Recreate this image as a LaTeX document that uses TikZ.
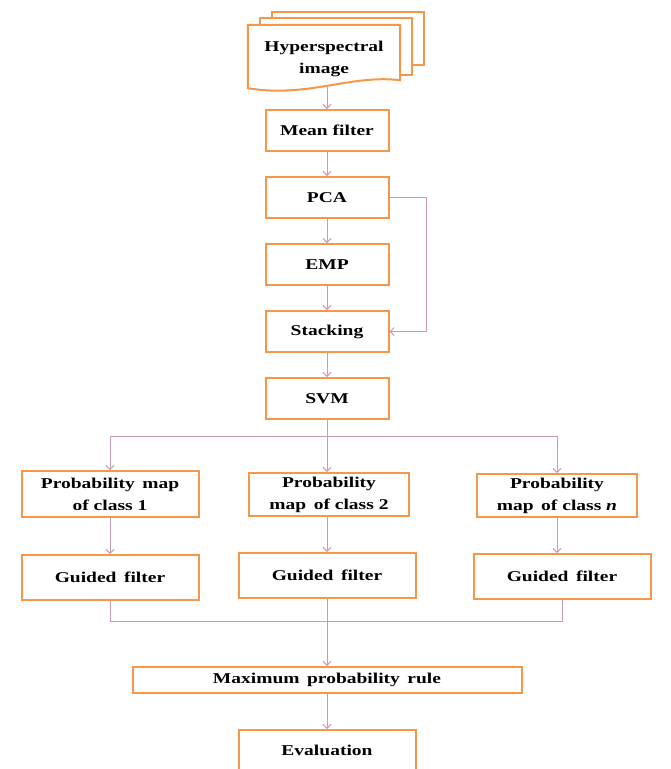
\documentclass[tikz,border=0pt]{standalone}
\usepackage{fontspec}
\newfontfamily\flowfont{Liberation Serif}[FakeStretch=1.3]
\usepackage{tikz}
\usetikzlibrary{positioning,arrows.meta,calc}
\definecolor{boxorange}{RGB}{247,150,70}
\definecolor{linkpink}{RGB}{200,155,185}

\begin{document}
\begin{tikzpicture}[x=1pt, y=-1pt,
  font=\flowfont\bfseries\fontsize{15}{22}\selectfont,
  every node/.style={align=center},
  box/.style={draw=boxorange, line width=2pt, fill=white, minimum width=123pt, minimum height=41pt, inner sep=2pt},
  probbox/.style={box, minimum width=160pt, minimum height=43pt},
  gfbox/.style={box, minimum width=177pt, minimum height=45pt},
  sheet/.style={draw=boxorange, line width=2pt, fill=white},
  link/.style={draw=linkpink, line width=1pt},
  arr/.style={link, -{Straight Barb[length=4pt,width=8pt]}}]
\useasboundingbox (0,0) rectangle (671,769);

% ---------------- input image (stack of sheets) ----------------
\node[minimum width=152pt, minimum height=63pt, inner sep=0pt] (hsi) at (324,56.5) {};
\draw[sheet] ([shift={(24pt,23pt)}]hsi.south west) rectangle ([shift={(24pt,13pt)}]hsi.north east);
\draw[sheet] ([shift={(12pt,13pt)}]hsi.south west) rectangle ([shift={(12pt,7pt)}]hsi.north east);
\draw[sheet] (hsi.south west) -- (hsi.north west) -- (hsi.north east) -- ([yshift=8pt]hsi.south east)
  .. controls +(-50pt,6pt) and +(60pt,-10pt) .. (hsi.south west) -- cycle;
\node at ([yshift=-2pt]hsi.center) {Hyperspectral\\image};

% ---------------- main column ----------------
\node[box] (mean) at (327,130.5) {Mean filter};
\node[box, below=24pt of mean] (pca) {PCA};
\node[box, below=24pt of pca] (emp) {EMP};
\node[box, below=24pt of emp] (stack) {Stacking};
\node[box, below=24pt of stack] (svm) {SVM};

% ---------------- class branches ----------------
\coordinate (split) at (327,436);
\node[probbox, minimum width=177pt, minimum height=46pt] (pm1) at (110,494) {Probability\enspace map\\of class 1};
\node[probbox] (pm2) at (329,494.5) {Probability\\map\enspace of class 2};
\node[probbox] (pmn) at (557,495.5) {Probability\\map\enspace of class \textit{n}};
\node[gfbox, below=36pt of pm1] (gf1) {Guided\enspace filter};
\node[gfbox, below=35pt of pm2, xshift=-2pt] (gf2) {Guided\enspace filter};
\node[gfbox, below=35pt of pmn, xshift=5pt] (gfn) {Guided\enspace filter};

% ---------------- decision ----------------
\coordinate (merge) at (327,621);
\node[box, minimum width=389pt, minimum height=26pt, below=45pt of merge] (maxr) {Maximum\enspace probability\enspace rule};
\node[box, minimum width=177pt, minimum height=41pt, below=35pt of maxr] (evl) {Evaluation};

% ---------------- arrows ----------------
\draw[arr] ([yshift=1pt]mean |- hsi.south) -- (mean);
\draw[arr] (mean) -- (pca);
\draw[arr] (pca) -- (emp);
\draw[arr] (emp) -- (stack);
\draw[arr] (stack) -- (svm);
\draw[arr] (pca.east) -- ++(37,0) |- (stack.east);
\draw[link] (svm) -- (split);
\draw[arr] (split) -| (pm1);
\draw[arr] (split) -- (split |- pm2.north);
\draw[arr] (split) -| (pmn);
\draw[arr] (pm1) -- (gf1);
\draw[arr] (pm2.south -| split) -- (split |- gf2.north);
\draw[arr] (pmn) -- (pmn |- gfn.north);
\draw[link] (gf1) |- (merge);
\draw[link] (gfn) |- (merge);
\draw[link] (gf2.south -| merge) -- (merge);
\draw[arr] (merge) -- (maxr);
\draw[arr] (maxr) -- (evl);
\end{tikzpicture}
\end{document}
